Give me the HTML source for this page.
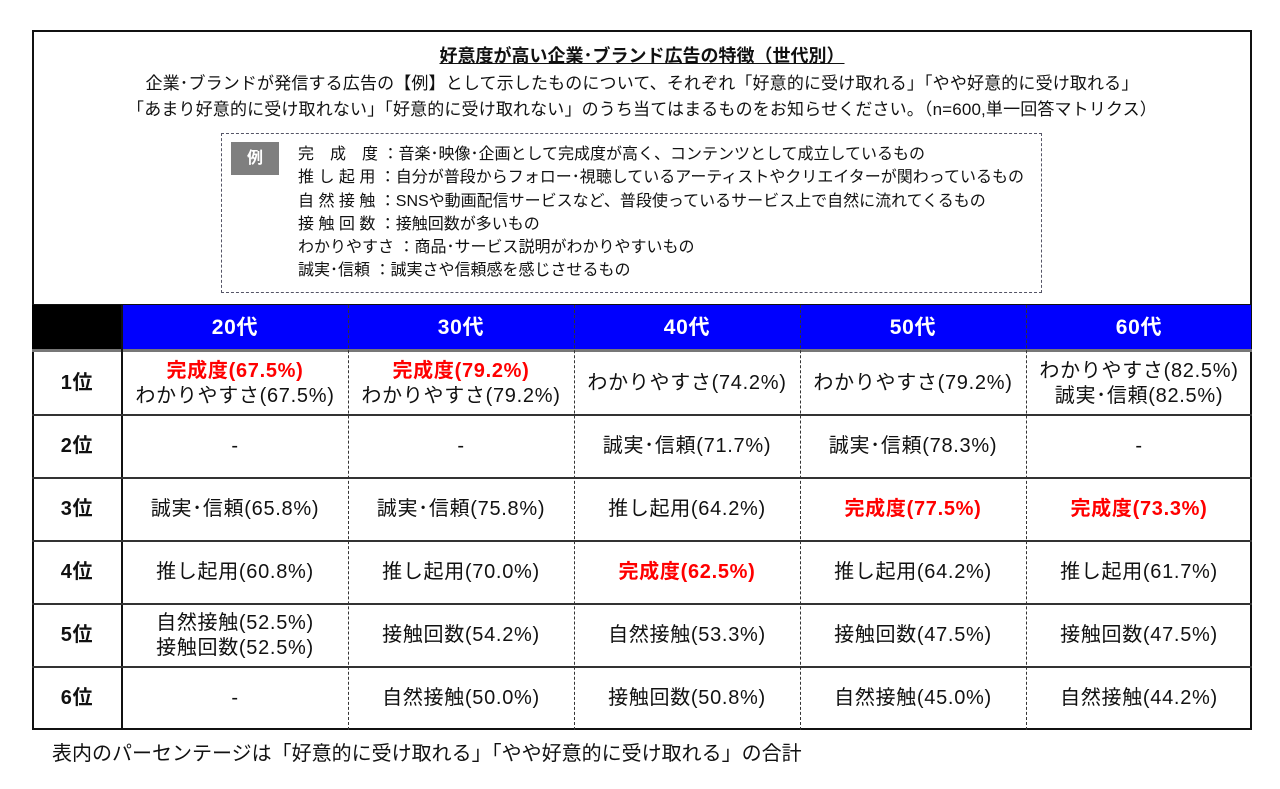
<!DOCTYPE html>
<html><head><meta charset="utf-8"><style>
*{margin:0;padding:0;box-sizing:border-box}
body{width:1280px;height:789px;background:#fff;font-family:"Liberation Sans","Noto Sans CJK JP",sans-serif;color:#111;position:relative;overflow:hidden}
.a{position:absolute}
.c{position:absolute;display:flex;flex-direction:column;align-items:center;justify-content:center;text-align:center;font-size:20px;line-height:25px;white-space:nowrap;letter-spacing:0.7px}
.r{color:#f00;font-weight:bold}
.h{color:#fff;font-weight:bold;font-size:21px}
.lbl{font-weight:bold;font-size:20px}
.lg{position:absolute;left:298px;font-size:16px;line-height:23.3px;white-space:nowrap}
</style></head><body>
<div class="a" style="left:32px;top:30px;width:1220px;height:700px;border:2px solid #111"></div>
<div class="a" style="left:32px;top:42px;width:1220px;text-align:center;font-size:18px;font-weight:bold;text-decoration:underline">好意度が高い企業･ブランド広告の特徴（世代別）</div>
<div class="a" style="left:32px;top:71px;width:1220px;text-align:center;font-size:17px;line-height:26px;letter-spacing:0.15px">企業･ブランドが発信する広告の【例】として示したものについて、それぞれ「好意的に受け取れる」「やや好意的に受け取れる」<br>「あまり好意的に受け取れない」「好意的に受け取れない」のうち当てはまるものをお知らせください。（n=600,単一回答マトリクス）</div>
<div class="a" style="left:221px;top:133px;width:821px;height:160px;border:1.5px dashed #556"></div>
<div class="a" style="left:231px;top:142px;width:48px;height:33px;background:#7f7f7f;color:#fff;font-weight:bold;font-size:16px;text-align:center;line-height:33px">例</div>
<div class="lg" style="top:143px">完　成　度 ：音楽･映像･企画として完成度が高く、コンテンツとして成立しているもの<br>推 し 起 用 ：自分が普段からフォロー･視聴しているアーティストやクリエイターが関わっているもの<br>自 然 接 触 ：SNSや動画配信サービスなど、普段使っているサービス上で自然に流れてくるもの<br>接 触 回 数 ：接触回数が多いもの<br>わかりやすさ ：商品･サービス説明がわかりやすいもの<br>誠実･信頼 ：誠実さや信頼感を感じさせるもの</div>
<!-- header -->
<div class="a" style="left:32px;top:304px;width:1220px;height:2px;background:#111"></div>
<div class="a" style="left:32px;top:305px;width:90px;height:45px;background:#000"></div>
<div class="a" style="left:122px;top:305px;width:1129px;height:45px;background:#0000fe"></div>
<div class="a" style="left:32px;top:349px;width:1220px;height:3px;background:#777"></div>
<div class="c h" style="left:122px;top:305px;width:226px;height:45px">20代</div>
<div class="c h" style="left:348px;top:305px;width:226px;height:45px">30代</div>
<div class="c h" style="left:574px;top:305px;width:226px;height:45px">40代</div>
<div class="c h" style="left:800px;top:305px;width:226px;height:45px">50代</div>
<div class="c h" style="left:1026px;top:305px;width:226px;height:45px">60代</div>
<!-- lines -->
<div class="a" style="left:121px;top:305px;width:2px;height:425px;background:#111"></div>
<div class="a" style="left:348px;top:305px;height:425px;border-left:1.5px dashed #333"></div>
<div class="a" style="left:574px;top:305px;height:425px;border-left:1.5px dashed #333"></div>
<div class="a" style="left:800px;top:305px;height:425px;border-left:1.5px dashed #333"></div>
<div class="a" style="left:1026px;top:305px;height:425px;border-left:1.5px dashed #333"></div>
<div class="a" style="left:32px;top:414px;width:1220px;height:1.5px;background:#333"></div>
<div class="a" style="left:32px;top:477px;width:1220px;height:1.5px;background:#333"></div>
<div class="a" style="left:32px;top:540px;width:1220px;height:1.5px;background:#333"></div>
<div class="a" style="left:32px;top:603px;width:1220px;height:1.5px;background:#333"></div>
<div class="a" style="left:32px;top:666px;width:1220px;height:1.5px;background:#333"></div>
<!-- row labels -->
<div class="c lbl" style="left:32px;top:352px;width:90px;height:63px">1位</div>
<div class="c lbl" style="left:32px;top:415px;width:90px;height:63px">2位</div>
<div class="c lbl" style="left:32px;top:478px;width:90px;height:63px">3位</div>
<div class="c lbl" style="left:32px;top:541px;width:90px;height:63px">4位</div>
<div class="c lbl" style="left:32px;top:604px;width:90px;height:63px">5位</div>
<div class="c lbl" style="left:32px;top:667px;width:90px;height:63px">6位</div>
<!-- row1 -->
<div class="c" style="left:122px;top:352px;width:226px;height:63px"><span class="r">完成度(67.5%)</span><span>わかりやすさ(67.5%)</span></div>
<div class="c" style="left:348px;top:352px;width:226px;height:63px"><span class="r">完成度(79.2%)</span><span>わかりやすさ(79.2%)</span></div>
<div class="c" style="left:574px;top:352px;width:226px;height:63px">わかりやすさ(74.2%)</div>
<div class="c" style="left:800px;top:352px;width:226px;height:63px">わかりやすさ(79.2%)</div>
<div class="c" style="left:1026px;top:352px;width:226px;height:63px"><span>わかりやすさ(82.5%)</span><span>誠実･信頼(82.5%)</span></div>
<!-- row2 -->
<div class="c" style="left:122px;top:415px;width:226px;height:63px">-</div>
<div class="c" style="left:348px;top:415px;width:226px;height:63px">-</div>
<div class="c" style="left:574px;top:415px;width:226px;height:63px">誠実･信頼(71.7%)</div>
<div class="c" style="left:800px;top:415px;width:226px;height:63px">誠実･信頼(78.3%)</div>
<div class="c" style="left:1026px;top:415px;width:226px;height:63px">-</div>
<!-- row3 -->
<div class="c" style="left:122px;top:478px;width:226px;height:63px">誠実･信頼(65.8%)</div>
<div class="c" style="left:348px;top:478px;width:226px;height:63px">誠実･信頼(75.8%)</div>
<div class="c" style="left:574px;top:478px;width:226px;height:63px">推し起用(64.2%)</div>
<div class="c r" style="left:800px;top:478px;width:226px;height:63px">完成度(77.5%)</div>
<div class="c r" style="left:1026px;top:478px;width:226px;height:63px">完成度(73.3%)</div>
<!-- row4 -->
<div class="c" style="left:122px;top:541px;width:226px;height:63px">推し起用(60.8%)</div>
<div class="c" style="left:348px;top:541px;width:226px;height:63px">推し起用(70.0%)</div>
<div class="c r" style="left:574px;top:541px;width:226px;height:63px">完成度(62.5%)</div>
<div class="c" style="left:800px;top:541px;width:226px;height:63px">推し起用(64.2%)</div>
<div class="c" style="left:1026px;top:541px;width:226px;height:63px">推し起用(61.7%)</div>
<!-- row5 -->
<div class="c" style="left:122px;top:604px;width:226px;height:63px"><span>自然接触(52.5%)</span><span>接触回数(52.5%)</span></div>
<div class="c" style="left:348px;top:604px;width:226px;height:63px">接触回数(54.2%)</div>
<div class="c" style="left:574px;top:604px;width:226px;height:63px">自然接触(53.3%)</div>
<div class="c" style="left:800px;top:604px;width:226px;height:63px">接触回数(47.5%)</div>
<div class="c" style="left:1026px;top:604px;width:226px;height:63px">接触回数(47.5%)</div>
<!-- row6 -->
<div class="c" style="left:122px;top:667px;width:226px;height:63px">-</div>
<div class="c" style="left:348px;top:667px;width:226px;height:63px">自然接触(50.0%)</div>
<div class="c" style="left:574px;top:667px;width:226px;height:63px">接触回数(50.8%)</div>
<div class="c" style="left:800px;top:667px;width:226px;height:63px">自然接触(45.0%)</div>
<div class="c" style="left:1026px;top:667px;width:226px;height:63px">自然接触(44.2%)</div>
<div class="a" style="left:52px;top:737px;font-size:20px;white-space:nowrap">表内のパーセンテージは「好意的に受け取れる」「やや好意的に受け取れる」の合計</div>
</body></html>
